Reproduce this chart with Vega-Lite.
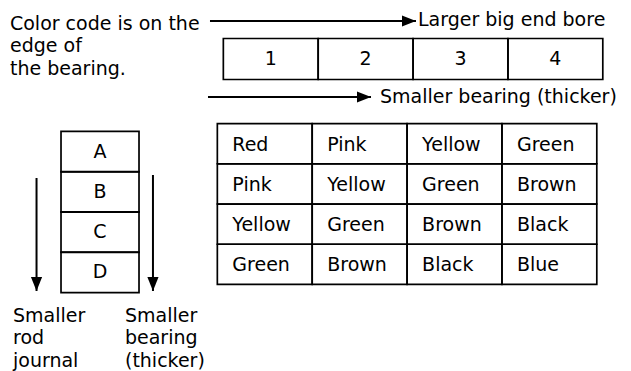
{
  "$schema": "https://vega.github.io/schema/vega-lite/v6.json",
  "width": 631,
  "height": 371,
  "autosize": {"type": "none"},
  "padding": 0,
  "background": "white",
  "config": {
    "view": {"stroke": null},
    "text": {"font": "DejaVu Sans", "fontSize": 19, "color": "black"}
  },
  "datasets": {
    "cells": [
      {"journal": "A", "journalRank": 1, "bore": 1, "code": "Red"},
      {"journal": "A", "journalRank": 1, "bore": 2, "code": "Pink"},
      {"journal": "A", "journalRank": 1, "bore": 3, "code": "Yellow"},
      {"journal": "A", "journalRank": 1, "bore": 4, "code": "Green"},
      {"journal": "B", "journalRank": 2, "bore": 1, "code": "Pink"},
      {"journal": "B", "journalRank": 2, "bore": 2, "code": "Yellow"},
      {"journal": "B", "journalRank": 2, "bore": 3, "code": "Green"},
      {"journal": "B", "journalRank": 2, "bore": 4, "code": "Brown"},
      {"journal": "C", "journalRank": 3, "bore": 1, "code": "Yellow"},
      {"journal": "C", "journalRank": 3, "bore": 2, "code": "Green"},
      {"journal": "C", "journalRank": 3, "bore": 3, "code": "Brown"},
      {"journal": "C", "journalRank": 3, "bore": 4, "code": "Black"},
      {"journal": "D", "journalRank": 4, "bore": 1, "code": "Green"},
      {"journal": "D", "journalRank": 4, "bore": 2, "code": "Brown"},
      {"journal": "D", "journalRank": 4, "bore": 3, "code": "Black"},
      {"journal": "D", "journalRank": 4, "bore": 4, "code": "Blue"}
    ],
    "bores": [
      {"bore": 1, "label": "1"},
      {"bore": 2, "label": "2"},
      {"bore": 3, "label": "3"},
      {"bore": 4, "label": "4"}
    ],
    "journals": [
      {"journal": "A", "journalRank": 1},
      {"journal": "B", "journalRank": 2},
      {"journal": "C", "journalRank": 3},
      {"journal": "D", "journalRank": 4}
    ],
    "arrows": [
      {"x": -1.405, "y": 1.854, "xEnd": -1.405, "yEnd": 4.662, "dir": "down"},
      {"x": -0.178, "y": 1.779, "xEnd": -0.178, "yEnd": 4.662, "dir": "down"},
      {"x": 0.423, "y": -2.048, "xEnd": 2.594, "yEnd": -2.048, "dir": "right"},
      {"x": 0.402, "y": -0.159, "xEnd": 2.120, "yEnd": -0.159, "dir": "right"}
    ],
    "notes": [
      {"x": -1.685, "y": -1.825, "note": "Color code is on the\nedge of\nthe bearing."},
      {"x": 2.615, "y": -1.931, "note": "Larger big end bore"},
      {"x": 2.215, "y": 0.002, "note": "Smaller bearing (thicker)"},
      {"x": -1.653, "y": 5.432, "note": "Smaller\nrod\njournal"},
      {"x": -0.473, "y": 5.432, "note": "Smaller\nbearing\n(thicker)"}
    ]
  },
  "layer": [
    {
      "data": {"name": "cells"},
      "mark": {"type": "rect", "filled": false, "stroke": "black", "strokeWidth": 1.7,
               "xOffset": -47.4, "x2Offset": 47.4, "yOffset": -20.1, "y2Offset": 20.1},
      "encoding": {
        "x": {"field": "bore", "type": "quantitative", "scale": {"domain": [-1.79, 4.86], "nice": false, "zero": false}, "axis": null},
        "x2": {"field": "bore"},
        "y": {"field": "journalRank", "type": "quantitative", "scale": {"domain": [-2.57, 6.65], "nice": false, "zero": false, "reverse": true}, "axis": null},
        "y2": {"field": "journalRank"}
      }
    },
    {
      "data": {"name": "cells"},
      "mark": {"type": "text", "align": "left", "baseline": "middle", "dx": -32.4, "dy": 1},
      "encoding": {
        "x": {"field": "bore", "type": "quantitative", "scale": {"domain": [-1.79, 4.86], "nice": false, "zero": false}, "axis": null},
        "y": {"field": "journalRank", "type": "quantitative", "scale": {"domain": [-2.57, 6.65], "nice": false, "zero": false, "reverse": true}, "axis": null},
        "text": {"field": "code", "type": "nominal"}
      }
    },
    {
      "data": {"name": "bores"},
      "mark": {"type": "rect", "filled": false, "stroke": "black", "strokeWidth": 1.7,
               "xOffset": -41.4, "x2Offset": 53.4, "yOffset": -20.5, "y2Offset": 20.5},
      "encoding": {
        "x": {"field": "bore", "type": "quantitative", "scale": {"domain": [-1.79, 4.86], "nice": false, "zero": false}, "axis": null},
        "x2": {"field": "bore"},
        "y": {"datum": -1.104, "type": "quantitative", "scale": {"domain": [-2.57, 6.65], "nice": false, "zero": false, "reverse": true}, "axis": null},
        "y2": {"datum": -1.104}
      }
    },
    {
      "data": {"name": "bores"},
      "mark": {"type": "text", "align": "center", "baseline": "middle", "dx": 6},
      "encoding": {
        "x": {"field": "bore", "type": "quantitative", "scale": {"domain": [-1.79, 4.86], "nice": false, "zero": false}, "axis": null},
        "y": {"datum": -1.104, "type": "quantitative", "scale": {"domain": [-2.57, 6.65], "nice": false, "zero": false, "reverse": true}, "axis": null},
        "text": {"field": "label", "type": "nominal"}
      }
    },
    {
      "data": {"name": "journals"},
      "mark": {"type": "rect", "filled": false, "stroke": "black", "strokeWidth": 1.7,
               "xOffset": -39, "x2Offset": 39, "yOffset": -12.3, "y2Offset": 28.3},
      "encoding": {
        "x": {"datum": -0.736, "type": "quantitative", "scale": {"domain": [-1.79, 4.86], "nice": false, "zero": false}, "axis": null},
        "x2": {"datum": -0.736},
        "y": {"field": "journalRank", "type": "quantitative", "scale": {"domain": [-2.57, 6.65], "nice": false, "zero": false, "reverse": true}, "axis": null},
        "y2": {"field": "journalRank"}
      }
    },
    {
      "data": {"name": "journals"},
      "mark": {"type": "text", "align": "center", "baseline": "middle", "dy": 8},
      "encoding": {
        "x": {"datum": -0.736, "type": "quantitative", "scale": {"domain": [-1.79, 4.86], "nice": false, "zero": false}, "axis": null},
        "y": {"field": "journalRank", "type": "quantitative", "scale": {"domain": [-2.57, 6.65], "nice": false, "zero": false, "reverse": true}, "axis": null},
        "text": {"field": "journal", "type": "nominal"}
      }
    },
    {
      "data": {"name": "arrows"},
      "mark": {"type": "rule", "stroke": "black", "strokeWidth": 2},
      "encoding": {
        "x": {"field": "x", "type": "quantitative", "scale": {"domain": [-1.79, 4.86], "nice": false, "zero": false}, "axis": null},
        "x2": {"field": "xEnd"},
        "y": {"field": "y", "type": "quantitative", "scale": {"domain": [-2.57, 6.65], "nice": false, "zero": false, "reverse": true}, "axis": null},
        "y2": {"field": "yEnd"}
      }
    },
    {
      "data": {"name": "arrows"},
      "mark": {"type": "point", "filled": true, "fill": "black", "strokeWidth": 0, "opacity": 1, "size": 784},
      "encoding": {
        "x": {"field": "xEnd", "type": "quantitative", "scale": {"domain": [-1.79, 4.86], "nice": false, "zero": false}, "axis": null},
        "y": {"field": "yEnd", "type": "quantitative", "scale": {"domain": [-2.57, 6.65], "nice": false, "zero": false, "reverse": true}, "axis": null},
        "shape": {"field": "dir", "type": "nominal", "scale": {"domain": ["down", "right"], "range": ["M-0.4,-1L0.4,-1L0,0Z", "M-1,-0.4L-1,0.4L0,0Z"]}, "legend": null}
      }
    },
    {
      "data": {"name": "notes"},
      "mark": {"type": "text", "align": "left", "baseline": "alphabetic", "lineBreak": "\n", "lineHeight": 22.5},
      "encoding": {
        "x": {"field": "x", "type": "quantitative", "scale": {"domain": [-1.79, 4.86], "nice": false, "zero": false}, "axis": null},
        "y": {"field": "y", "type": "quantitative", "scale": {"domain": [-2.57, 6.65], "nice": false, "zero": false, "reverse": true}, "axis": null},
        "text": {"field": "note", "type": "nominal"}
      }
    }
  ]
}
